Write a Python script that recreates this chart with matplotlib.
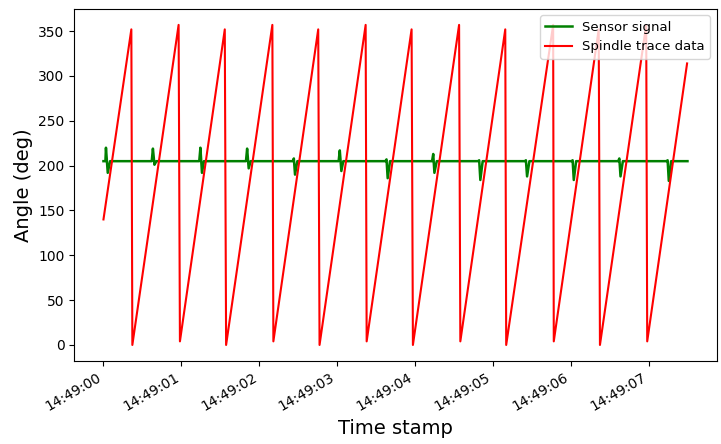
import numpy as np
import pandas as pd
import matplotlib
matplotlib.use('Agg')
import matplotlib.pyplot as plt
import matplotlib.dates as mdates

t0 = pd.Timestamp('2021-01-01 14:49:00')

# spindle trace vertices (seconds after t0, angle in deg)
spindle_t = [0.0, 0.358, 0.371, 0.965, 0.982, 1.558, 1.575, 2.169, 2.182,
             2.758, 2.775, 3.367, 3.380, 3.957, 3.974, 4.567, 4.583, 5.160,
             5.172, 5.775, 5.783, 6.360, 6.376, 6.970, 6.983, 7.495]
spindle_deg = [140, 352, 0, 357, 4, 352, 0, 357, 4,
               352, 0, 357, 4, 352, 0, 357, 4, 352,
               0, 357, 4, 352, 0, 357, 4, 314]

# sensor signal vertices
sensor_t = [0.0, 0.025, 0.032, 0.055, 0.085,
            0.62, 0.635, 0.655, 0.68,
            1.23, 1.245, 1.265, 1.29,
            1.83, 1.845, 1.865, 1.89,
            2.43, 2.445, 2.46, 2.49,
            3.02, 3.035, 3.055, 3.08,
            3.62, 3.635, 3.65, 3.68,
            4.22, 4.235, 4.25, 4.28,
            4.81, 4.825, 4.84, 4.87,
            5.41, 5.425, 5.44, 5.47,
            6.01, 6.025, 6.04, 6.07,
            6.61, 6.625, 6.64, 6.67,
            7.23, 7.245, 7.26, 7.29,
            7.50]
sensor_deg = [205, 205, 220, 192, 205,
              205, 219, 201, 205,
              205, 220, 192, 205,
              205, 219, 197, 205,
              205, 208, 190, 205,
              205, 217, 194, 205,
              205, 207, 186, 205,
              205, 213, 192, 205,
              205, 206, 184, 205,
              205, 206, 188, 205,
              205, 206, 184, 205,
              205, 208, 188, 205,
              205, 206, 183, 205,
              205]

spindle_time = t0 + pd.to_timedelta(spindle_t, unit='s')
sensor_time = t0 + pd.to_timedelta(sensor_t, unit='s')

fig, ax = plt.subplots(figsize=(7.21, 4.44), dpi=100)
ax.plot(sensor_time, sensor_deg, color='green', lw=1.8, label='Sensor signal')
ax.plot(spindle_time, spindle_deg, color='red', lw=1.5, label='Spindle trace data')

ax.xaxis.set_major_locator(mdates.SecondLocator())
ax.xaxis.set_major_formatter(mdates.DateFormatter('%H:%M:%S'))
ax.set_xlabel('Time stamp', fontsize=14)
ax.set_ylabel('Angle (deg)', fontsize=14)
ax.legend(loc='upper right', fontsize=9.5)
fig.autofmt_xdate()
fig.subplots_adjust(left=0.103, right=0.994, top=0.98, bottom=0.187)

fig.savefig('out.png', dpi=100)
